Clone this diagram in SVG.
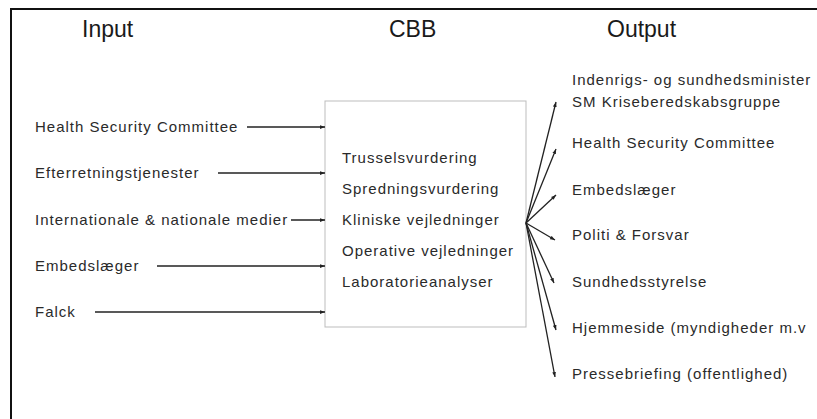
<svg xmlns="http://www.w3.org/2000/svg" width="817" height="419" viewBox="0 0 817 419">
<style>
.t{font-family:"Liberation Sans",Arial,sans-serif;font-size:15px;letter-spacing:1px;fill:#2a2a2a}
.h{font-family:"Liberation Sans",Arial,sans-serif;font-size:23px;fill:#1a1a1a}
.c{stroke:#222;stroke-width:1.3;fill:none;marker-end:url(#ah)}
</style>
<defs>
<marker id="ah" viewBox="0 0 8 6" refX="8" refY="3" markerWidth="5" markerHeight="4" orient="auto" markerUnits="userSpaceOnUse">
<path d="M0,0 L8,3 L0,6 Z" fill="#222"/>
</marker>
</defs>
<rect width="817" height="419" fill="#fff"/>
<path d="M11,420 V9 H818" fill="none" stroke="#111" stroke-width="2"/>
<g id="titles">
<text class="h" x="82" y="37">Input</text>
<text class="h" x="389" y="37">CBB</text>
<text class="h" x="607" y="37">Output</text>
</g>
<g id="inputs">
<text class="t" x="35" y="132">Health Security Committee</text>
<text class="t" x="35" y="178">Efterretningstjenester</text>
<text class="t" x="35" y="225">Internationale &amp; nationale medier</text>
<text class="t" x="35" y="271">Embedslæger</text>
<text class="t" x="35" y="317">Falck</text>
</g>
<g id="cbb">
<rect x="325" y="101" width="201" height="226" fill="#fff" stroke="#bdbdbd" stroke-width="1"/>
<text class="t" x="342" y="163">Trusselsvurdering</text>
<text class="t" x="342" y="194">Spredningsvurdering</text>
<text class="t" x="342" y="225">Kliniske vejledninger</text>
<text class="t" x="342" y="256">Operative vejledninger</text>
<text class="t" x="342" y="287">Laboratorieanalyser</text>
</g>
<g id="outputs">
<text class="t" x="572" y="85">Indenrigs- og sundhedsminister</text>
<text class="t" x="572" y="107">SM Kriseberedskabsgruppe</text>
<text class="t" x="572" y="148">Health Security Committee</text>
<text class="t" x="572" y="195">Embedslæger</text>
<text class="t" x="572" y="240">Politi &amp; Forsvar</text>
<text class="t" x="572" y="287">Sundhedsstyrelse</text>
<text class="t" x="572" y="333">Hjemmeside (myndigheder m.v</text>
<text class="t" x="572" y="379">Pressebriefing (offentlighed)</text>
</g>
<g id="connectors">
<line class="c" x1="247" y1="127" x2="325" y2="127"/>
<line class="c" x1="218" y1="173" x2="325" y2="173"/>
<line class="c" x1="291" y1="220" x2="325" y2="220"/>
<line class="c" x1="157" y1="266" x2="325" y2="266"/>
<line class="c" x1="95" y1="312" x2="325" y2="312"/>
<line class="c" x1="526" y1="223" x2="556" y2="102"/>
<line class="c" x1="526" y1="223" x2="556" y2="149"/>
<line class="c" x1="526" y1="223" x2="556" y2="195"/>
<line class="c" x1="526" y1="223" x2="555" y2="240"/>
<line class="c" x1="526" y1="223" x2="554" y2="283"/>
<line class="c" x1="526" y1="223" x2="556" y2="330"/>
<line class="c" x1="526" y1="223" x2="555" y2="377"/>
</g>
</svg>
